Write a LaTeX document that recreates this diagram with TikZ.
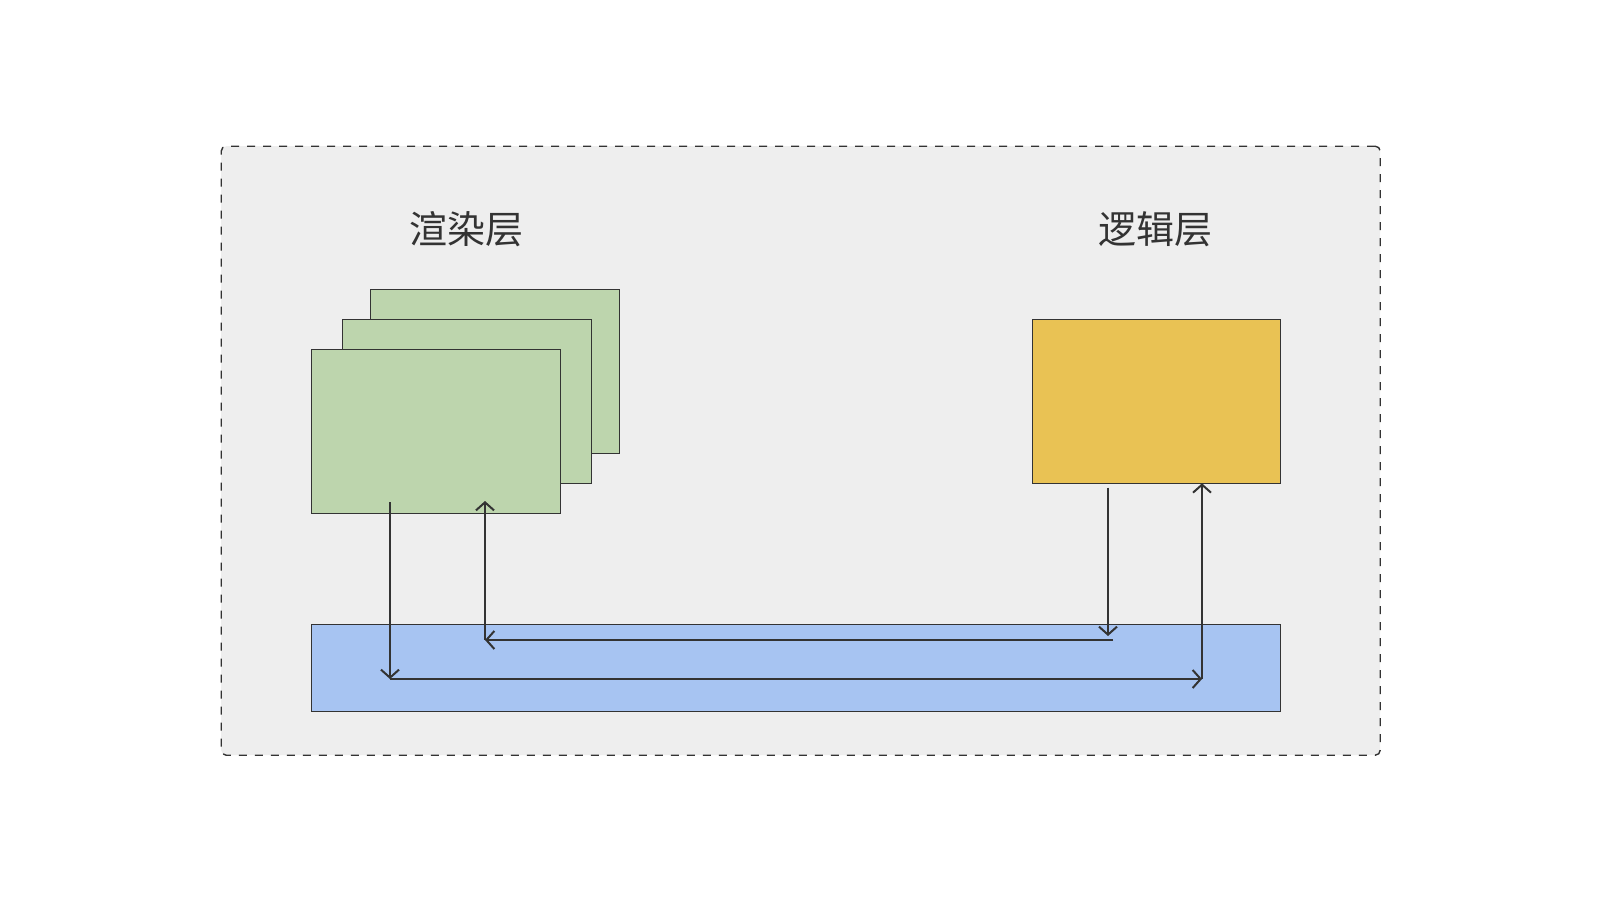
\documentclass[tikz,border=0pt]{standalone}
\usepackage{fontspec}
\newfontfamily\cjk{Noto Sans CJK SC}
\usetikzlibrary{arrows.meta}
\definecolor{bgc}{HTML}{EEEEEE}
\definecolor{strokec}{HTML}{333333}
\definecolor{greenc}{HTML}{BDD5AD}
\definecolor{yellowc}{HTML}{E9C254}
\definecolor{bluec}{HTML}{A7C4F2}
\tikzset{
  panel/.style={draw=strokec, line width=1pt, inner sep=0pt, anchor=north west},
  flow/.style={draw=strokec, line width=2pt, -{Straight Barb[length=8pt,width=18pt,line width=2pt]}},
  label/.style={font=\cjk\fontsize{38pt}{44pt}\selectfont, text=strokec, inner sep=0pt},
}
\begin{document}
\begin{tikzpicture}[x=1pt,y=-1pt]
\useasboundingbox (0,0) rectangle (1600,900);
\fill[white] (0,0) rectangle (1600,900);
% outer dashed container
\node[draw=strokec, fill=bgc, line width=1.4pt, dash pattern=on 8pt off 8pt, rounded corners=5pt,
      inner sep=0pt, anchor=north west, minimum width=1159pt, minimum height=609pt] (frame) at (220.5,145.5) {};
% titles
\node[label] (t1) at (466,229) {渲染层};
\node[label] (t2) at (1155,229) {逻辑层};
% green stack
\node[panel, fill=greenc, minimum width=248.4pt, minimum height=164pt] (g3) at (370.3,289.3) {};
\node[panel, fill=greenc, minimum width=248.4pt, minimum height=164pt] (g2) at (342.3,319.3) {};
\node[panel, fill=greenc, minimum width=248.4pt, minimum height=164pt] (g1) at (311.3,349.3) {};
% yellow
\node[panel, fill=yellowc, minimum width=248pt, minimum height=164pt] (y1) at (1032,319.3) {};
% blue bus
\node[panel, fill=bluec, minimum width=968.4pt, minimum height=87pt] (b1) at (311.3,624.3) {};
% coordinates
\coordinate (a1s) at (390,502);
\coordinate (a1c) at (390,679);
\coordinate (a1d) at (1202,679);
\coordinate (a1e) at (1202,483.3);
\coordinate (a2s) at (1108,487.5);
\coordinate (a2e) at (1108,636);
\coordinate (a2h) at (1113,640);
\coordinate (a2c) at (485,640);
\coordinate (a2u) at (485,501);
% arrows
\draw[flow] (a1s) -- (a1c);
\draw[flow] (a1c) -- (a1d);
\draw[flow] (a1d) -- (a1e);
\draw[flow] (a2s) -- (a2e);
\draw[flow] (a2h) -- (a2c);
\draw[flow] (a2c) -- (a2u);
\end{tikzpicture}
\end{document}
